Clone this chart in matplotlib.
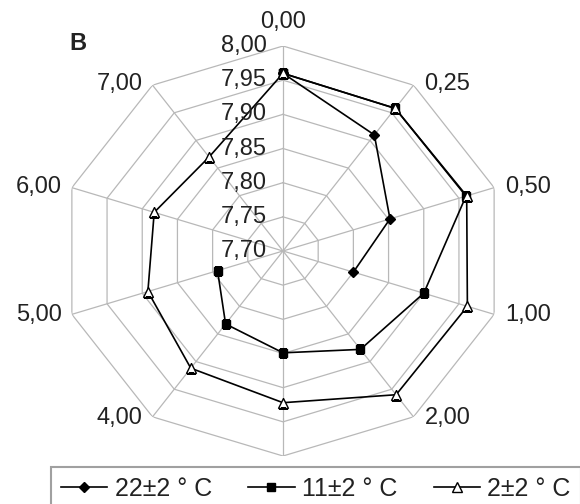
import numpy as np
import matplotlib
matplotlib.use('Agg')
import matplotlib.pyplot as plt
from matplotlib.transforms import offset_copy

# storage time categories (axes of the radar)
categories = ['0,00', '0,25', '0,50', '1,00', '2,00', '3,00', '4,00', '5,00', '6,00', '7,00']
rings = [7.75, 7.80, 7.85, 7.90, 7.95, 8.00]

# pH values, nan where the series has no point
ph_22 = [7.960, 7.910, 7.852, 7.800, np.nan, np.nan, np.nan, np.nan, np.nan, np.nan]
ph_11 = [7.960, 7.958, 7.960, 7.900, 7.878, 7.849, 7.832, 7.793, np.nan, np.nan]
ph_2 = [7.960, 7.958, 7.961, 7.962, 7.960, 7.922, 7.912, 7.892, 7.883, 7.870]

series_labels = ['22±2 ° C', '11±2 ° C', '2±2 ° C']

plt.rcParams['font.family'] = ['Liberation Sans', 'DejaVu Sans']
txt_color = '#222222'
grid_color = '#b8b8b8'

fig = plt.figure(figsize=(5.8, 5.04), dpi=100)
ax = fig.add_axes([61 / 580, 48 / 504, 444 / 580, 410 / 504], projection='polar')
ax.set_aspect('auto')
ax.set_theta_zero_location('N')
ax.set_theta_direction(-1)
ax.set_ylim(rings[0] - 0.05, rings[-1])
ax.grid(False)
ax.spines['polar'].set_visible(False)
ax.set_xticks([])
ax.set_yticks([])

n = len(categories)
angles = np.linspace(0, 2 * np.pi, n, endpoint=False)
closed = np.append(angles, angles[0])

# polygon grid
for lvl in rings:
    ax.plot(closed, [lvl] * (n + 1), color=grid_color, lw=0.9, zorder=1)
for a in angles:
    ax.plot([a, a], [rings[0] - 0.05, rings[-1]], color=grid_color, lw=0.9, zorder=1)

# series
styles = [
    dict(marker='D', ms=5, mfc='black', mec='black'),
    dict(marker='s', ms=6, mfc='black', mec='black'),
    dict(marker='^', ms=7.5, mfc='white', mec='black', mew=1.0),
]
for vals, lab, st in zip([ph_22, ph_11, ph_2], series_labels, styles):
    v = np.append(vals, vals[0])
    ax.plot(closed, v, color='black', lw=1.2, label=lab, zorder=3, **st)

# category labels around the outside
for a, lab in zip(angles, categories):
    s, c = np.sin(a), np.cos(a)
    if abs(s) < 1e-6:
        if c < 0:
            continue  # bottom label sits under the legend box, not visible
        ha, dx, dy = 'center', 0, 24
    elif s > 0:
        ha, dx, dy = 'left', 11, 2 * c
    else:
        ha, dx, dy = 'right', -10, 2 * c
    tr = offset_copy(ax.transData, fig=fig, x=dx, y=dy, units='dots')
    ax.text(a, rings[-1], lab, ha=ha, va='center', fontsize=17,
            color=txt_color, transform=tr, clip_on=False)

# radial value labels along the top spoke
tr = offset_copy(ax.transData, fig=fig, x=-16, y=0, units='dots')
for lvl in [rings[0] - 0.05] + rings:
    ax.text(0, lvl, f'{lvl:.2f}'.replace('.', ','), ha='right', va='center',
            fontsize=17, color=txt_color, transform=tr, clip_on=False)

fig.text(78 / 580, 1 - 44 / 504, 'B', fontsize=17, weight='bold',
         ha='center', va='center', color=txt_color)

leg = fig.legend(loc='upper left', bbox_to_anchor=(51 / 580, 1 - 467 / 504),
                 bbox_transform=fig.transFigure, borderaxespad=0, ncol=3,
                 fontsize=18, frameon=True, fancybox=False, framealpha=1,
                 edgecolor='#a0a0a0', borderpad=0.4, handlelength=1.85,
                 handletextpad=0.3, columnspacing=1.45)
leg.get_frame().set_linewidth(1.5)
for t in leg.get_texts():
    t.set_color(txt_color)

fig.savefig('out.png', dpi=100)
